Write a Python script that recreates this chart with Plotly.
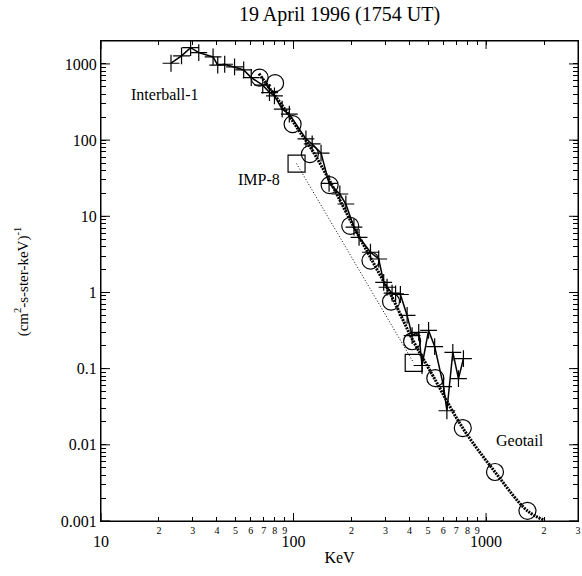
import math
import plotly.graph_objects as go

# ---- data (energy in keV, flux in (cm^2-s-ster-keV)^-1) ----
interball_kev = [23.1, 26.2, 29.2, 32.2, 38.2, 40.4, 43.9, 49.4, 55.1, 60.3, 69.2, 75.0, 79.6,
                 87.3, 95.1, 116, 125, 139, 153, 174, 187, 206, 219, 251, 277, 294, 306, 325,
                 339, 359, 389, 413, 447, 465, 503, 541, 602, 626, 672, 719, 763]
interball_flux = [1021, 1274, 1636, 1406, 1235, 962, 991, 914, 834, 661, 526, 421, 381,
                  255, 219, 104, 89, 67.6, 27, 19.6, 14.5, 7.2, 5.3, 3.37, 2.75, 1.36, 1.17, 0.98,
                  0.96, 0.94, 0.50, 0.272, 0.30, 0.110, 0.317, 0.195, 0.058, 0.028, 0.164, 0.074, 0.135]

geotail_kev = [66.7, 80.2, 98.9, 121.6, 154, 197, 251, 321, 413, 545, 757, 1113, 1641]
geotail_flux = [661, 559, 162, 65.6, 25.7, 7.5, 2.62, 0.76, 0.229, 0.075, 0.0166, 0.0044, 0.00136]

geotail_fit_kev = [66.1, 78, 91.4, 107, 125.6, 159, 202, 256, 325, 413, 535, 757, 1113, 1641, 2018]
geotail_fit_flux = [746, 421, 242, 132, 72.4, 25.2, 7.9, 2.62, 0.865, 0.247, 0.077, 0.0166, 0.0044, 0.00136, 0.00102]

imp8_kev = [103.7, 421]
imp8_flux = [49.2, 0.119]

x_decades = [10, 100, 1000]
x_decade_labels = ["10", "100", "1000"]
x_digits = [2, 3, 4, 5, 6, 7, 8, 9]
y_decades = [0.001, 0.01, 0.1, 1, 10, 100, 1000]
y_labels = ["0.001", "0.01", "0.1", "1", "10", "100", "1000"]

X_MIN, X_MAX = 10, 3000
Y_MIN, Y_MAX = 0.001, 2000
FONT = "Liberation Serif"

# x ticks: small digit labels, larger lowered decade labels
x_tickvals, x_ticktext = [], []
for d, lab in zip(x_decades, x_decade_labels):
    x_tickvals.append(d)
    x_ticktext.append("<br><span style='font-size:16px'>" + lab + "</span>")
    for m in x_digits:
        if d * m <= X_MAX:
            x_tickvals.append(d * m)
            x_ticktext.append(str(m))

# y ticks: labelled decades plus unlabelled intermediate ticks
y_tickvals, y_ticktext = [], []
for d, lab in zip(y_decades, y_labels):
    y_tickvals.append(d)
    y_ticktext.append(lab)
    for m in x_digits:
        if d * m <= Y_MAX:
            y_tickvals.append(d * m)
            y_ticktext.append("")

fig = go.Figure()

fig.add_trace(go.Scatter(
    x=geotail_fit_kev, y=geotail_fit_flux, mode="lines",
    line=dict(color="black", width=3, dash="2px,1px", shape="spline"),
    showlegend=False, hoverinfo="skip"))

fig.add_trace(go.Scatter(
    x=imp8_kev, y=imp8_flux, mode="lines+markers",
    line=dict(color="black", width=1, dash="1px,2px"),
    marker=dict(symbol="square-open", size=17, color="black", line=dict(width=1.2)),
    showlegend=False))

fig.add_trace(go.Scatter(
    x=interball_kev, y=interball_flux, mode="lines+markers",
    line=dict(color="black", width=1.5),
    marker=dict(symbol="cross-thin", size=12, color="black", line=dict(width=1.2, color="black")),
    showlegend=False))

fig.add_trace(go.Scatter(
    x=geotail_kev, y=geotail_flux, mode="markers",
    marker=dict(symbol="circle-open", size=17, color="black", line=dict(width=1.2)),
    showlegend=False))

# frame and longer decade ticks on all four sides
shapes = [dict(type="rect", xref="paper", yref="paper", x0=0, x1=1, y0=0, y1=1,
               line=dict(color="black", width=1), layer="above")]
for d in x_decades:
    shapes.append(dict(type="line", xref="x", yref="paper", x0=d, x1=d,
                       ysizemode="pixel", yanchor=0, y0=0, y1=8,
                       line=dict(color="black", width=1)))
    shapes.append(dict(type="line", xref="x", yref="paper", x0=d, x1=d,
                       ysizemode="pixel", yanchor=1, y0=0, y1=-8,
                       line=dict(color="black", width=1)))
for d in y_decades:
    shapes.append(dict(type="line", xref="paper", yref="y", y0=d, y1=d,
                       xsizemode="pixel", xanchor=0, x0=0, x1=9,
                       line=dict(color="black", width=1)))
    shapes.append(dict(type="line", xref="paper", yref="y", y0=d, y1=d,
                       xsizemode="pixel", xanchor=1, x0=0, x1=-9,
                       line=dict(color="black", width=1)))

fig.update_layout(
    width=582, height=576,
    margin=dict(l=101, r=2, t=41, b=55),
    paper_bgcolor="white", plot_bgcolor="white",
    font=dict(family=FONT, color="black", size=16),
    title=dict(text="19 April 1996 (1754 UT)", x=0.5, xref="paper", xanchor="center",
               y=1 - 14 / 576, yref="container", yanchor="middle",
               font=dict(family=FONT, size=20, color="black")),
    xaxis=dict(type="log", range=[math.log10(X_MIN), math.log10(X_MAX) + 0.0005],
               showgrid=False, zeroline=False,
               showline=True, linecolor="black", linewidth=1, mirror="ticks",
               ticks="inside", ticklen=4, tickwidth=1, tickcolor="black",
               tickmode="array", tickvals=x_tickvals, ticktext=x_ticktext,
               ticklabeloverflow="allow",
               tickfont=dict(family=FONT, size=10), tickangle=0,
               title=dict(text="KeV", font=dict(family=FONT, size=16), standoff=2)),
    yaxis=dict(type="log", range=[math.log10(Y_MIN), math.log10(Y_MAX)],
               showgrid=False, zeroline=False,
               showline=True, linecolor="black", linewidth=1, mirror="ticks",
               ticks="inside", ticklen=5, tickwidth=1, tickcolor="black",
               tickmode="array", tickvals=y_tickvals, ticktext=y_ticktext,
               tickfont=dict(family=FONT, size=16)),
    shapes=shapes,
    annotations=[
        dict(x=-80 / 479, y=0.5, xref="paper", yref="paper", textangle=-90,
             text="(cm<sup>2</sup>-s-ster-keV)<sup>-1</sup>", showarrow=False,
             xanchor="center", yanchor="middle", font=dict(family=FONT, size=15)),
        dict(x=1.332, y=2.603, xref="x", yref="y", text="Interball-1", showarrow=False,
             font=dict(family=FONT, size=16)),
        dict(x=1.823, y=1.480, xref="x", yref="y", text="IMP-8", showarrow=False,
             font=dict(family=FONT, size=16)),
        dict(x=3.176, y=-1.941, xref="x", yref="y", text="Geotail", showarrow=False,
             font=dict(family=FONT, size=16)),
    ],
)

fig.write_html("out.html", config={"displayModeBar": False},
               post_script="document.body.style.margin='0px';")
